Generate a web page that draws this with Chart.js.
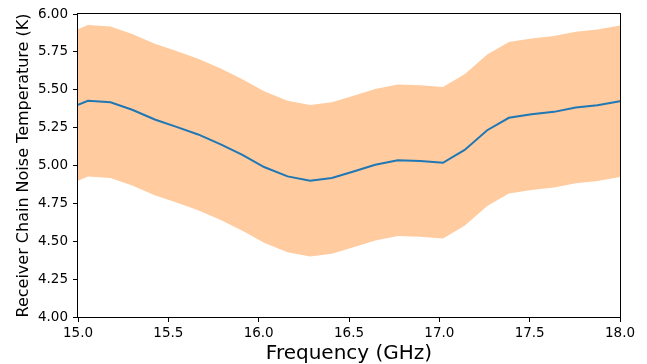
<!DOCTYPE html>
<html>
<head>
<meta charset="utf-8">
<script src="https://cdn.jsdelivr.net/npm/chart.js@4/dist/chart.umd.min.js"></script>
<style>
  html, body { margin: 0; padding: 0; background: #fff; }
  #wrap { width: 647px; height: 364px; }
</style>
</head>
<body>
<div id="wrap"><canvas id="chart"></canvas></div>
<script>
/* Receiver chain noise temperature vs frequency, with ±0.5 K band */

// frequency points (GHz)
const freqGHz = [
  15.00, 15.055, 15.18, 15.30, 15.425, 15.545, 15.665, 15.79, 15.91, 16.03,
  16.16, 16.285, 16.405, 16.525, 16.645, 16.77, 16.895, 17.02, 17.14, 17.265,
  17.385, 17.51, 17.635, 17.755, 17.875, 18.00,
];
// mean noise temperature (K)
const noiseK = [
  5.400, 5.427, 5.417, 5.368, 5.304, 5.255, 5.205, 5.140, 5.070, 4.990,
  4.928, 4.899, 4.918, 4.960, 5.005, 5.035, 5.030, 5.018, 5.103, 5.233,
  5.315, 5.338, 5.354, 5.383, 5.398, 5.424,
];
// band edges (K)
const upperK = [
  5.900, 5.927, 5.917, 5.868, 5.804, 5.755, 5.705, 5.640, 5.570, 5.490,
  5.428, 5.399, 5.418, 5.460, 5.505, 5.535, 5.530, 5.518, 5.603, 5.733,
  5.815, 5.838, 5.854, 5.883, 5.898, 5.924,
];
const lowerK = [
  4.900, 4.927, 4.917, 4.868, 4.804, 4.755, 4.705, 4.640, 4.570, 4.490,
  4.428, 4.399, 4.418, 4.460, 4.505, 4.535, 4.530, 4.518, 4.603, 4.733,
  4.815, 4.838, 4.854, 4.883, 4.898, 4.924,
];

const yTicks = [4.00, 4.25, 4.50, 4.75, 5.00, 5.25, 5.50, 5.75, 6.00];
const xTicks = [15.0, 15.5, 16.0, 16.5, 17.0, 17.5, 18.0];

const pts = (ys) => freqGHz.map((x, i) => ({ x, y: ys[i] }));
const FONT = 'DejaVu Sans';

// matplotlib-style box around the axes
const spines = {
  id: 'spines',
  afterDatasetsDraw(chart) {
    const { ctx, chartArea: a } = chart;
    ctx.save();
    ctx.strokeStyle = '#000';
    ctx.lineWidth = 1;
    ctx.strokeRect(Math.round(a.left) - 0.5, Math.round(a.top) - 0.5,
      Math.round(a.right - a.left) + 1, Math.round(a.bottom - a.top) + 1);
    ctx.restore();
  },
};

new Chart(document.getElementById('chart'), {
  type: 'line',
  data: {
    datasets: [
      { data: pts(lowerK), borderWidth: 0, pointRadius: 0, fill: false, order: 2 },
      { data: pts(upperK), borderWidth: 0, pointRadius: 0, fill: '-1',
        backgroundColor: '#ffcb9f', order: 1 },
      { data: pts(noiseK), borderColor: '#1f77b4', borderWidth: 2,
        pointRadius: 0, fill: false, tension: 0, order: 0 },
    ],
  },
  plugins: [spines],
  options: {
    responsive: true, maintainAspectRatio: false, animation: false,
    layout: { padding: { top: 14, right: 27, left: 0, bottom: 0 } },
    plugins: { legend: { display: false }, tooltip: { enabled: false } },
    scales: {
      x: {
        type: 'linear', min: 15, max: 18,
        afterFit: (s) => { s.height = 47; },
        afterBuildTicks: (s) => { s.ticks = xTicks.map((v) => ({ value: v })); },
        border: { display: false },
        grid: { drawOnChartArea: false, drawTicks: true, tickLength: 5, color: '#000' },
        ticks: { color: '#000', padding: 3, maxRotation: 0, font: { family: FONT, size: 13.5 },
          callback: (v) => v.toFixed(1) },
        title: { display: true, text: 'Frequency (GHz)', color: '#000',
          font: { family: FONT, size: 20, lineHeight: 1 }, padding: { top: 0, bottom: 0 } },
      },
      y: {
        min: 4, max: 6,
        afterFit: (s) => { s.width = 78; },
        afterBuildTicks: (s) => { s.ticks = yTicks.map((v) => ({ value: v })); },
        border: { display: false },
        grid: { drawOnChartArea: false, drawTicks: true, tickLength: 5, color: '#000' },
        ticks: { color: '#000', padding: 5, font: { family: FONT, size: 13.5 },
          callback: (v) => v.toFixed(2) },
        title: { display: true, text: 'Receiver Chain Noise Temperature (K)', color: '#000',
          font: { family: FONT, size: 16, lineHeight: 1 }, padding: { top: 16, bottom: 0 } },
      },
    },
  },
});
</script>
</body>
</html>
